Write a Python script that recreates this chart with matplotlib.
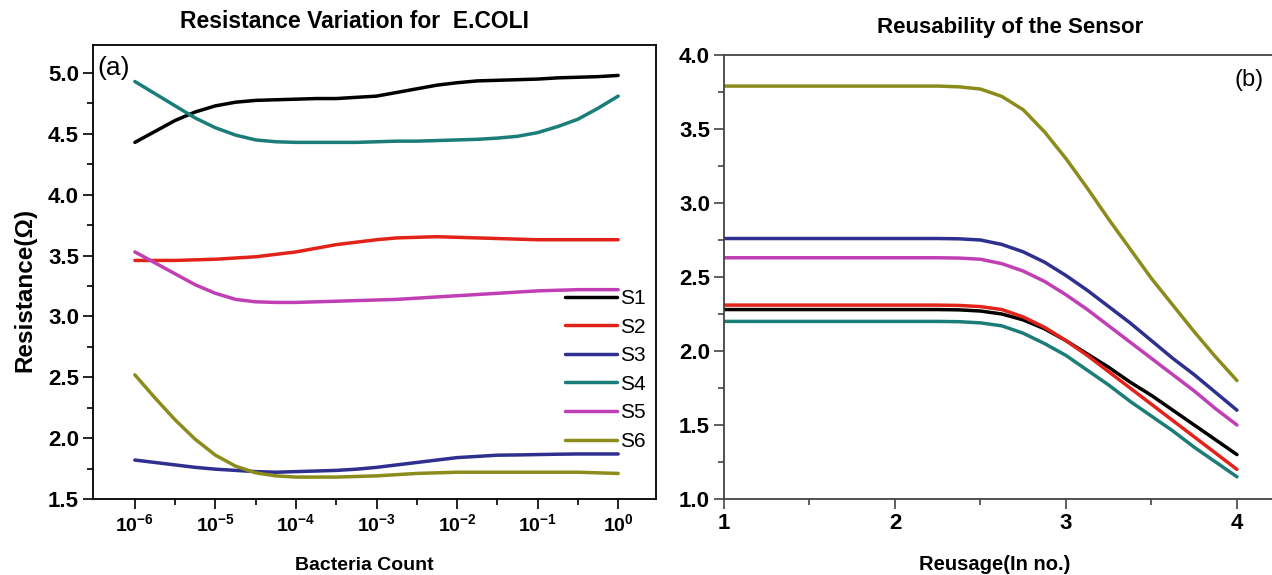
import matplotlib
matplotlib.use("Agg")
import matplotlib.pyplot as plt
from matplotlib.ticker import FixedLocator, MultipleLocator, NullFormatter, FormatStrFormatter

plt.rcParams['font.family'] = ['Liberation Sans', 'DejaVu Sans']
plt.rcParams['mathtext.fontset'] = 'custom'
plt.rcParams['mathtext.rm'] = 'Liberation Sans'
plt.rcParams['mathtext.bf'] = 'Liberation Sans:bold'
plt.rcParams['mathtext.default'] = 'bf'

# ---------------- data: panel (a) ----------------
series_names = ['S1', 'S2', 'S3', 'S4', 'S5', 'S6']
colors = ['#000000', '#e2231a', '#2e2f8f', '#1b7d78', '#c13fb4', '#8c8c1c']

count_exp = [-6, -5.75, -5.5, -5.25, -5, -4.75, -4.5, -4.25, -4, -3.75, -3.5, -3.25, -3,
             -2.75, -2.5, -2.25, -2, -1.75, -1.5, -1.25, -1, -0.75, -0.5, -0.25, 0]
bacteria_count = [10.0 ** e for e in count_exp]
res_S1 = [4.43, 4.52, 4.61, 4.68, 4.73, 4.76, 4.775, 4.78, 4.785, 4.79, 4.79, 4.80, 4.81,
          4.84, 4.87, 4.90, 4.92, 4.935, 4.94, 4.945, 4.95, 4.96, 4.965, 4.97, 4.98]
res_S2 = [3.46, 3.46, 3.46, 3.465, 3.47, 3.48, 3.49, 3.51, 3.53, 3.56, 3.59, 3.61, 3.63,
          3.645, 3.65, 3.655, 3.65, 3.645, 3.64, 3.635, 3.63, 3.63, 3.63, 3.63, 3.63]
res_S3 = [1.82, 1.80, 1.78, 1.76, 1.745, 1.735, 1.725, 1.72, 1.725, 1.73, 1.735, 1.745, 1.76,
          1.78, 1.80, 1.82, 1.84, 1.85, 1.86, 1.862, 1.865, 1.868, 1.87, 1.87, 1.87]
res_S4 = [4.93, 4.83, 4.73, 4.63, 4.55, 4.49, 4.45, 4.435, 4.43, 4.43, 4.43, 4.43, 4.435,
          4.44, 4.44, 4.445, 4.45, 4.455, 4.465, 4.48, 4.51, 4.56, 4.62, 4.71, 4.81]
res_S5 = [3.53, 3.44, 3.35, 3.26, 3.19, 3.14, 3.12, 3.115, 3.115, 3.12, 3.125, 3.13, 3.135,
          3.14, 3.15, 3.16, 3.17, 3.18, 3.19, 3.20, 3.21, 3.215, 3.22, 3.22, 3.22]
res_S6 = [2.52, 2.33, 2.15, 1.99, 1.86, 1.77, 1.715, 1.69, 1.68, 1.68, 1.68, 1.685, 1.69,
          1.70, 1.71, 1.715, 1.72, 1.72, 1.72, 1.72, 1.72, 1.72, 1.72, 1.715, 1.71]
res_a = [res_S1, res_S2, res_S3, res_S4, res_S5, res_S6]

xtick_exp = [-6, -5, -4, -3, -2, -1, 0]
xtick_labels_a = [r'$10^{-6}$', r'$10^{-5}$', r'$10^{-4}$', r'$10^{-3}$',
                  r'$10^{-2}$', r'$10^{-1}$', r'$10^{0}$']

# ---------------- data: panel (b) ----------------
reusage = [1.0, 1.5, 2.0, 2.25, 2.375, 2.5, 2.625, 2.75, 2.875, 3.0, 3.125, 3.25, 3.375,
           3.5, 3.625, 3.75, 3.875, 4.0]
reu_S1 = [2.28, 2.28, 2.28, 2.28, 2.278, 2.27, 2.25, 2.21, 2.15, 2.07, 1.98, 1.89, 1.79,
          1.70, 1.60, 1.50, 1.40, 1.30]
reu_S2 = [2.31, 2.31, 2.31, 2.31, 2.308, 2.30, 2.28, 2.23, 2.16, 2.07, 1.97, 1.86, 1.75,
          1.64, 1.53, 1.42, 1.31, 1.20]
reu_S3 = [2.76, 2.76, 2.76, 2.76, 2.758, 2.75, 2.72, 2.67, 2.60, 2.51, 2.41, 2.30, 2.19,
          2.07, 1.95, 1.84, 1.72, 1.60]
reu_S4 = [2.20, 2.20, 2.20, 2.20, 2.198, 2.19, 2.17, 2.12, 2.05, 1.97, 1.87, 1.77, 1.66,
          1.56, 1.46, 1.35, 1.25, 1.15]
reu_S5 = [2.63, 2.63, 2.63, 2.63, 2.628, 2.62, 2.59, 2.54, 2.47, 2.38, 2.28, 2.17, 2.06,
          1.95, 1.84, 1.73, 1.61, 1.50]
reu_S6 = [3.79, 3.79, 3.79, 3.79, 3.785, 3.77, 3.72, 3.63, 3.48, 3.30, 3.10, 2.89, 2.69,
          2.49, 2.31, 2.13, 1.96, 1.80]
res_b = [reu_S1, reu_S2, reu_S3, reu_S4, reu_S5, reu_S6]

W, H = 1272, 575
fig = plt.figure(figsize=(W / 100, H / 100), dpi=100)

def ax_rect(l, r, t, b):
    return [l / W, 1 - b / H, (r - l) / W, (b - t) / H]

# ---------------- panel (a) ----------------
ax1 = fig.add_axes(ax_rect(93, 656, 45, 499))
for name, col, ys in zip(series_names, colors, res_a):
    ax1.plot(bacteria_count, ys, color=col, lw=2.5, label=name,
             solid_capstyle='round', solid_joinstyle='round')
ax1.set_xscale('log')
ax1.set_xlim(10 ** -6.52, 10 ** 0.47)
ax1.set_ylim(1.5, 5.23)
ax1.xaxis.set_major_locator(FixedLocator([10.0 ** e for e in xtick_exp]))
ax1.set_xticklabels(xtick_labels_a)
ax1.xaxis.set_minor_locator(FixedLocator([10.0 ** (e + 0.5) for e in xtick_exp[:-1]]))
ax1.xaxis.set_minor_formatter(NullFormatter())
ax1.yaxis.set_major_locator(MultipleLocator(0.5))
ax1.yaxis.set_minor_locator(MultipleLocator(0.25))
ax1.yaxis.set_major_formatter(FormatStrFormatter('%.1f'))
ax1.tick_params(which='both', direction='out', top=False, right=False, width=1.2)
ax1.tick_params(which='major', length=7, pad=3)
ax1.tick_params(axis='x', which='major', labelsize=14)
ax1.tick_params(axis='y', which='major', labelsize=16)
ax1.tick_params(which='minor', length=4)
for lab in ax1.get_yticklabels():
    lab.set_fontweight('bold')
for sp in ax1.spines.values():
    sp.set_linewidth(1.3)
ax1.set_xlabel('Bacteria Count', fontsize=14, fontweight='bold')
ax1.xaxis.set_label_coords((364 - 93) / (656 - 93), -(565 - 499) / (499 - 45), transform=ax1.transAxes)
ax1.set_ylabel('Resistance(Ω)', fontsize=17.5, fontweight='bold')
ax1.yaxis.set_label_coords(-(93 - 25) / (656 - 93), (499 - 290) / (499 - 45), transform=ax1.transAxes)
ax1.xaxis.label.set_va('center')
ax1.yaxis.label.set_va('center')
ax1.text(0.008, (499 - 68) / (499 - 45), '(a)', transform=ax1.transAxes, fontsize=19,
         va='center', ha='left')
leg = ax1.legend(loc='upper left', bbox_to_anchor=(565 / W, 1 - 289 / H),
                 bbox_transform=fig.transFigure, frameon=False,
                 fontsize=15, handlelength=2.5, handletextpad=0.12, labelspacing=0.46,
                 borderpad=0.0, borderaxespad=0.0)
fig.text(355 / W, 1 - 22 / H, 'Resistance Variation for  E.COLI', ha='center', va='center',
         fontsize=16.5, fontweight='bold')

# ---------------- panel (b) ----------------
ax2 = fig.add_axes(ax_rect(724, 1272, 55, 499))
for name, col, ys in zip(series_names, colors, res_b):
    ax2.plot(reusage, ys, color=col, lw=2.5, solid_capstyle='round', solid_joinstyle='round')
ax2.set_xlim(1, 4.205)
ax2.set_ylim(1.0, 4.0)
ax2.xaxis.set_major_locator(FixedLocator([1, 2, 3, 4]))
ax2.xaxis.set_minor_locator(MultipleLocator(0.5))
ax2.yaxis.set_major_locator(MultipleLocator(0.5))
ax2.yaxis.set_minor_locator(MultipleLocator(0.25))
ax2.yaxis.set_major_formatter(FormatStrFormatter('%.1f'))
ax2.tick_params(which='both', direction='out', top=False, right=False, width=1.2,
                colors='#444444', labelcolor='black')
ax2.tick_params(which='major', length=7, labelsize=16, pad=3)
ax2.tick_params(which='minor', length=4)
for lab in ax2.get_yticklabels() + ax2.get_xticklabels():
    lab.set_fontweight('bold')
ax2.spines['right'].set_visible(False)
for sp in ['left', 'top', 'bottom']:
    ax2.spines[sp].set_linewidth(1.3)
    ax2.spines[sp].set_color('#444444')
ax2.set_xlabel('Reusage(In no.)', fontsize=14.5, fontweight='bold')
ax2.xaxis.set_label_coords((995 - 724) / (1272 - 724), -(565 - 499) / (499 - 55), transform=ax2.transAxes)
ax2.xaxis.label.set_va('center')
ax2.text(0.985, (499 - 80) / (499 - 55), '(b)', transform=ax2.transAxes, fontsize=17,
         va='center', ha='right')
fig.text(1010 / W, 1 - 28 / H, 'Reusability of the Sensor', ha='center', va='center',
         fontsize=16, fontweight='bold')

fig.savefig('out.png', dpi=100)
